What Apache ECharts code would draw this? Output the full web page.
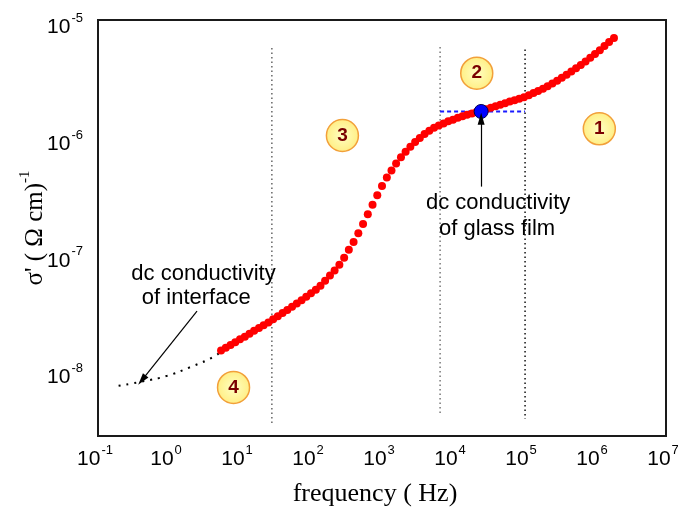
<!DOCTYPE html>
<html>
<head>
<meta charset="utf-8">
<title>sigma' vs frequency</title>
<script src="https://cdn.jsdelivr.net/npm/echarts@6/dist/echarts.min.js"></script>
<style>
html, body { margin: 0; padding: 0; background: #fff; }
#chart { width: 678px; height: 514px; }
</style>
</head>
<body>
<div id="chart"></div>
<script>
// measured sigma' (S/cm) against frequency (Hz)
const freq = [
    5.41, 6.31, 7.36, 8.58,
    10, 11.7, 13.6, 15.8, 18.5, 21.5, 25.1, 29.3, 34.1, 39.8, 46.4, 54.1, 63.1, 73.6, 85.8,
    100, 117, 136, 158, 185, 215, 251, 293, 341, 398, 464, 541, 631, 736, 858,
    1000, 1170, 1360, 1580, 1850, 2150, 2510, 2930, 3410, 3980, 4640, 5410, 6310, 7360, 8580,
    1e4, 1.17e4, 1.36e4, 1.58e4, 1.85e4, 2.15e4, 2.51e4, 2.93e4, 3.41e4, 3.98e4, 4.64e4, 5.41e4, 6.31e4, 7.36e4, 8.58e4,
    1e5, 1.17e5, 1.36e5, 1.58e5, 1.85e5, 2.15e5, 2.51e5, 2.93e5, 3.41e5, 3.98e5, 4.64e5, 5.41e5, 6.31e5, 7.36e5, 8.58e5,
    1e6, 1.17e6, 1.36e6, 1.58e6, 1.85e6
];
const sigma = [
    1.62e-8, 1.71e-8, 1.81e-8, 1.91e-8,
    2.02e-8, 2.13e-8, 2.26e-8, 2.39e-8, 2.52e-8, 2.67e-8, 2.82e-8, 3.00e-8, 3.19e-8, 3.39e-8, 3.61e-8, 3.84e-8, 4.09e-8, 4.37e-8, 4.68e-8,
    5.01e-8, 5.38e-8, 5.82e-8, 6.41e-8, 7.10e-8, 7.87e-8, 8.79e-8, 1.01e-7, 1.18e-7, 1.38e-7, 1.64e-7, 1.97e-7, 2.38e-7, 2.87e-7, 3.46e-7,
    4.17e-7, 4.92e-7, 5.66e-7, 6.49e-7, 7.34e-7, 8.16e-7, 9.01e-7, 9.89e-7, 1.07e-6, 1.16e-6, 1.24e-6, 1.31e-6, 1.37e-6, 1.43e-6, 1.49e-6,
    1.54e-6, 1.60e-6, 1.65e-6, 1.70e-6, 1.74e-6, 1.79e-6, 1.84e-6, 1.89e-6, 1.95e-6, 2.01e-6, 2.07e-6, 2.13e-6, 2.20e-6, 2.26e-6, 2.33e-6,
    2.40e-6, 2.49e-6, 2.60e-6, 2.71e-6, 2.83e-6, 2.97e-6, 3.14e-6, 3.32e-6, 3.52e-6, 3.73e-6, 3.98e-6, 4.25e-6, 4.53e-6, 4.86e-6, 5.22e-6,
    5.63e-6, 6.07e-6, 6.57e-6, 7.12e-6, 7.73e-6
];

// dc conductivity of the interface (dotted extension)
const ifaceFreq = [0.195, 0.416, 0.935, 1.99, 4.48, 5.41];
const ifaceSigma = [8.07e-9, 8.79e-9, 9.82e-9, 1.167e-8, 1.455e-8, 1.62e-8];

// region borders (vertical dotted lines)
const boundFreq = [28.1, 6580, 1.035e5];
const boundTop = [6.34e-6, 6.46e-6, 6.15e-6];
const boundBottom = [3.79e-9, 4.45e-9, 4.19e-9];

// dc conductivity of glass film
const dcFreq = [2.49e4];
const dcSigma = [1.81e-6];
const dcLineFreq = [6580, 1.035e5];

// region numbers
const regionNames = ['1', '2', '3', '4'];
const regionFreq = [1.15e6, 2.16e4, 277, 8.11];
const regionSigma = [1.285e-6, 3.85e-6, 1.127e-6, 7.82e-9];

// annotation texts
const noteText = ['dc conductivity', 'of interface', 'dc conductivity', 'of glass film'];
const noteFreq = [3.06, 2.42, 4.32e4, 4.18e4];
const noteSigma = [7.41e-8, 4.53e-8, 3.0e-7, 1.80e-7];

// arrows: start -> tip
const arrowFromFreq = [2.48, 2.49e4];
const arrowFromSigma = [3.53e-8, 4.11e-7];
const arrowToFreq = [0.416, 2.49e4];
const arrowToSigma = [9.04e-9, 1.57e-6];

const pairs = (xs, ys) => xs.map((x, i) => [x, ys[i]]);

// 10^n 标签
function powLabel(v) {
    const lg = Math.log10(v);
    const e = Math.round(lg);
    if (Math.abs(lg - e) > 1e-6) return '';
    return '{b|10}{s|' + e + '}';
}

const tickRich = {
    b: {fontFamily: 'Liberation Sans', fontSize: 21, color: '#000', lineHeight: 26, verticalAlign: 'bottom'},
    s: {fontFamily: 'Liberation Sans', fontSize: 13, color: '#000', lineHeight: 14, verticalAlign: 'top', padding: [0, 0, 0, 1]}
};

const chart = echarts.init(document.getElementById('chart'));

const boundColors = ['#666', '#777', '#111'];
const boundSeries = boundFreq.map((f, i) => ({
    type: 'line',
    data: [[f, boundTop[i]], [f, boundBottom[i]]],
    showSymbol: false,
    symbol: 'none',
    lineStyle: {color: boundColors[i], width: 1.5, type: [1.5, 3]},
    z: 1
}));

const option = {
    animation: false,
    grid: {
        left: 98, right: 12, top: 20, bottom: 78,
        outerBoundsMode: 'none',
        show: true, borderColor: '#1a1a1a', borderWidth: 2
    },
    xAxis: {
        type: 'log',
        min: 0.1, max: 1e7,
        axisLine: {show: false},
        axisTick: {show: false},
        splitLine: {show: false},
        axisLabel: {
            formatter: powLabel, rich: tickRich, margin: 8, padding: [0, 6, 0, 0],
            showMinLabel: true, showMaxLabel: true
        },
        name: 'frequency ( Hz)',
        nameLocation: 'middle',
        nameGap: 45,
        nameMoveOverlap: false,
        nameTextStyle: {fontFamily: 'Liberation Serif', fontSize: 26, color: '#000', padding: [0, 14, 0, 0]}
    },
    yAxis: {
        type: 'log',
        min: 3e-9, max: 1.1e-5,
        axisLine: {show: false},
        axisTick: {show: false},
        splitLine: {show: false},
        axisLabel: {formatter: powLabel, rich: tickRich, margin: 15},
        name: "{a|σ' ( Ω cm)}{s|-1}",
        nameLocation: 'middle',
        nameGap: 50,
        nameMoveOverlap: false,
        nameTextStyle: {
            rich: {
                a: {fontFamily: 'Liberation Serif', fontSize: 25, color: '#000', lineHeight: 30, verticalAlign: 'bottom'},
                s: {fontFamily: 'Liberation Serif', fontSize: 15, color: '#000', lineHeight: 16, verticalAlign: 'top'}
            }
        }
    },
    series: [
        ...boundSeries,
        {
            // blue dashed level
            type: 'line',
            data: dcLineFreq.map(f => [f, dcSigma[0]]),
            symbol: 'none',
            lineStyle: {color: '#1a1aff', width: 2, type: [4, 3]},
            z: 2
        },
        {
            type: 'line',
            data: pairs(ifaceFreq, ifaceSigma),
            smooth: true,
            symbol: 'none',
            lineStyle: {color: '#000', width: 2, type: [2, 6]},
            z: 2
        },
        {
            type: 'scatter',
            data: pairs(freq, sigma),
            symbol: 'circle',
            symbolSize: 8,
            itemStyle: {color: '#ff0000', opacity: 1},
            z: 3
        },
        {
            type: 'scatter',
            data: pairs(dcFreq, dcSigma),
            symbolSize: 14,
            itemStyle: {color: '#0000ff', borderColor: '#000050', borderWidth: 1, opacity: 1},
            z: 4
        },
        {
            type: 'scatter',
            data: pairs(regionFreq, regionSigma),
            symbolSize: 32,
            itemStyle: {
                color: {
                    type: 'radial', x: 0.5, y: 0.5, r: 0.5,
                    colorStops: [{offset: 0, color: '#ffffc2'}, {offset: 1, color: '#ffee84'}]
                },
                borderColor: '#f2a03a',
                borderWidth: 1.5,
                opacity: 1
            },
            label: {
                show: true,
                position: 'inside',
                formatter: p => regionNames[p.dataIndex],
                fontFamily: 'Liberation Sans',
                fontWeight: 'bold',
                fontSize: 19,
                color: '#7a0000'
            },
            z: 5
        },
        {
            type: 'scatter',
            data: pairs(noteFreq, noteSigma),
            symbolSize: 1,
            itemStyle: {color: 'rgba(0,0,0,0)', opacity: 1},
            label: {
                show: true,
                position: 'inside',
                formatter: p => noteText[p.dataIndex],
                fontFamily: 'Liberation Sans',
                fontSize: 22,
                color: '#000'
            },
            markLine: {
                silent: true,
                symbol: ['none', 'triangle'],
                symbolSize: [7, 12],
                label: {show: false},
                lineStyle: {color: '#000', width: 1.2, type: 'solid'},
                data: arrowFromFreq.map((f, i) => [
                    {coord: [f, arrowFromSigma[i]]},
                    {coord: [arrowToFreq[i], arrowToSigma[i]]}
                ])
            },
            z: 6
        }
    ]
};

chart.setOption(option);
</script>
</body>
</html>
